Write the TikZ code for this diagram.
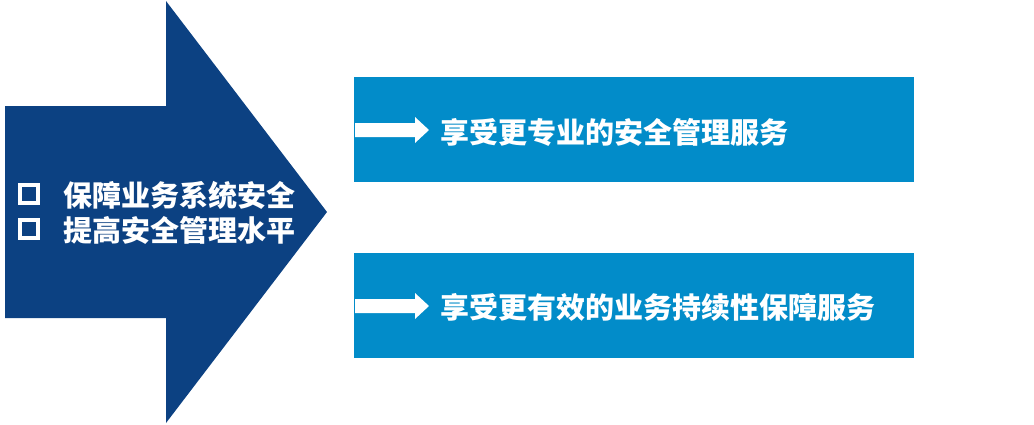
\documentclass[tikz,border=0pt]{standalone}
\usepackage{fontspec}
\newfontfamily\cjk{Noto Sans CJK SC}
\definecolor{navy}{HTML}{0C4182}
\definecolor{sky}{HTML}{028CC9}
\tikzset{
  bigarrow/.style={fill=navy,draw=none},
  panel/.style={fill=sky,draw=none,minimum width=560pt,minimum height=105pt,inner sep=0pt},
  paneltext/.style={text=white,anchor=west,inner sep=0pt,font=\cjk\bfseries\fontsize{29}{29}\selectfont},
  lefttext/.style={text=white,anchor=west,inner sep=0pt,font=\cjk\bfseries\fontsize{29}{29}\selectfont},
  bullet/.style={draw=white,line width=4pt,minimum size=18pt,inner sep=0pt},
  smallarrow/.style={fill=white,draw=none}
}
\begin{document}
\begin{tikzpicture}[x=1pt,y=-1pt]
\useasboundingbox (0,0) rectangle (1034,424);
% big arrow
\fill[bigarrow] (5,106) -- (166,106) -- (166,1) -- (327,212) -- (166,423) -- (166,318) -- (5,318) -- cycle;
% bullets and left text
\node[bullet] (b1) at (29,194) {};
\node[bullet] (b2) at (29,229) {};
\node[lefttext] (t1) at (63,195) {保障业务系统安全};
\node[lefttext] (t2) at (63,230) {提高安全管理水平};
% panels
\node[panel] (p1) at (634,129.5) {};
\node[panel] (p2) at (634,305.5) {};
% small arrows
\fill[smallarrow] (355,123) -- (415,123) -- (415,117) -- (429,130) -- (415,143) -- (415,137) -- (355,137) -- cycle;
\fill[smallarrow] (355,299) -- (415,299) -- (415,293) -- (429,306) -- (415,319) -- (415,313) -- (355,313) -- cycle;
% panel texts
\node[paneltext] (s1) at (440,132) {享受更专业的安全管理服务};
\node[paneltext] (s2) at (440,307.5) {享受更有效的业务持续性保障服务};
\end{tikzpicture}
\end{document}
